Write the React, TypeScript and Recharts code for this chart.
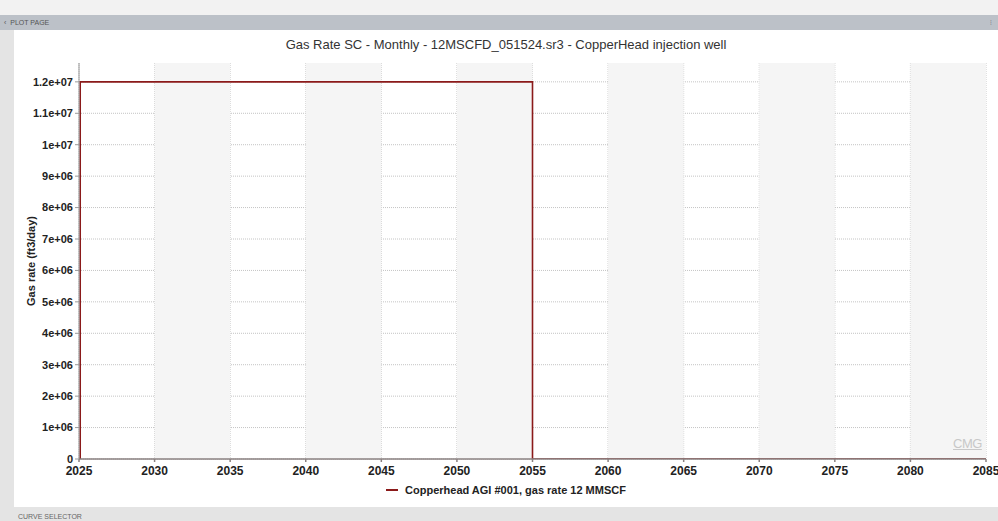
import React from 'react';
import { LineChart, Line, XAxis, YAxis, CartesianGrid, ReferenceArea } from 'recharts';

const years = [2025, 2025.08, 2055, 2085];
const gasRate = [0, 12000000, 0, 0];
const xTicks = [2025, 2030, 2035, 2040, 2045, 2050, 2055, 2060, 2065, 2070, 2075, 2080, 2085];
const yTicks = [0, 1000000, 2000000, 3000000, 4000000, 5000000, 6000000, 7000000, 8000000, 9000000, 10000000, 11000000, 12000000];
const yTickLabels = ['0', '1e+06', '2e+06', '3e+06', '4e+06', '5e+06', '6e+06', '7e+06', '8e+06', '9e+06', '1e+07', '1.1e+07', '1.2e+07'];
const shadedBands = [[2030, 2035], [2040, 2045], [2050, 2055], [2060, 2065], [2070, 2075], [2080, 2085]];

const seriesName = 'Copperhead AGI #001, gas rate 12 MMSCF';
const title = 'Gas Rate SC - Monthly - 12MSCFD_051524.sr3 - CopperHead injection well';

const data = years.map((y, i) => ({ year: y, rate: gasRate[i] }));

const FONT = '"Liberation Sans", Arial, sans-serif';

export default function App() {
  return (
    <div style={{ position: 'absolute', left: 0, top: 0, width: 998, height: 521, background: '#e4e4e4', overflow: 'hidden', fontFamily: FONT }}>
      <div style={{ position: 'absolute', left: 0, top: 0, width: 998, height: 15, background: '#f2f2f2' }} />
      <div style={{ position: 'absolute', left: 0, top: 15, width: 998, height: 15, background: '#bcc1c8', fontSize: 7, color: '#555', lineHeight: '15px' }}>
        <span style={{ marginLeft: 4 }}>‹ &nbsp;PLOT PAGE</span>
        <span style={{ position: 'absolute', right: 6, top: 0 }}>⫶</span>
      </div>
      <div style={{ position: 'absolute', left: 14, top: 30, width: 984, height: 477, background: '#ffffff' }} />
      <div style={{ position: 'absolute', left: 0, top: 507, width: 998, height: 14, background: '#e4e4e4', fontSize: 7, color: '#666', lineHeight: '20px' }}>
        <span style={{ marginLeft: 18 }}>CURVE SELECTOR</span>
      </div>
      <div style={{ position: 'absolute', left: 14, top: 37, width: 984, textAlign: 'center', fontSize: 13, color: '#333' }}>{title}</div>
      <div style={{ position: 'absolute', left: 0, top: 0 }}>
        <LineChart width={998} height={521} data={data} margin={{ top: 63, right: 12, bottom: 32, left: 13 }}>
          {shadedBands.map((b, i) => (
            <ReferenceArea key={i} x1={b[0]} x2={b[1]} fill="#f5f5f5" fillOpacity={1} stroke="none" ifOverflow="hidden" />
          ))}
          <CartesianGrid stroke="#c4c4c4" strokeDasharray="1 1" verticalValues={xTicks} horizontalValues={yTicks} />
          <XAxis
            dataKey="year"
            type="number"
            domain={[2025, 2085]}
            ticks={xTicks}
            interval={0}
            allowDataOverflow
            stroke="#8a8080"
            strokeWidth={1.5}
            tickSize={3}
            tickMargin={4}
            tick={{ fontFamily: FONT, fontSize: 12, fontWeight: 'bold', fill: '#222' }}
            height={30}
          />
          <YAxis
            type="number"
            domain={[0, 12600000]}
            ticks={yTicks}
            interval={0}
            allowDataOverflow
            stroke="#999"
            tickSize={4}
            width={66}
            tickFormatter={(v: number) => yTickLabels[yTicks.indexOf(v)] ?? String(v)}
            tick={{ fontFamily: FONT, fontSize: 11, fontWeight: 'bold', fill: '#222' }}
            label={{ value: 'Gas rate (ft3/day)', angle: -90, position: 'insideLeft', offset: 18, style: { fontFamily: FONT, fontSize: 11, fontWeight: 'bold', fill: '#222', textAnchor: 'middle' } }}
          />
          <Line type="stepAfter" dataKey="rate" name={seriesName} stroke="#8b1a1a" strokeWidth={1.6} dot={false} isAnimationActive={false} />
        </LineChart>
      </div>
      <div style={{ position: 'absolute', left: 14, top: 484, width: 984, display: 'flex', justifyContent: 'center', alignItems: 'center', fontSize: 11, fontWeight: 'bold', color: '#222' }}>
        <svg width={14} height={6} style={{ marginRight: 5 }}>
          <line x1={0} y1={3} x2={12} y2={3} stroke="#8b1a1a" strokeWidth={2} />
        </svg>
        <span>{seriesName}</span>
      </div>
      <div style={{ position: 'absolute', left: 953, top: 436, fontSize: 13, color: '#c8c8c8', letterSpacing: -0.5, textDecoration: 'underline' }}>CMG</div>
    </div>
  );
}
